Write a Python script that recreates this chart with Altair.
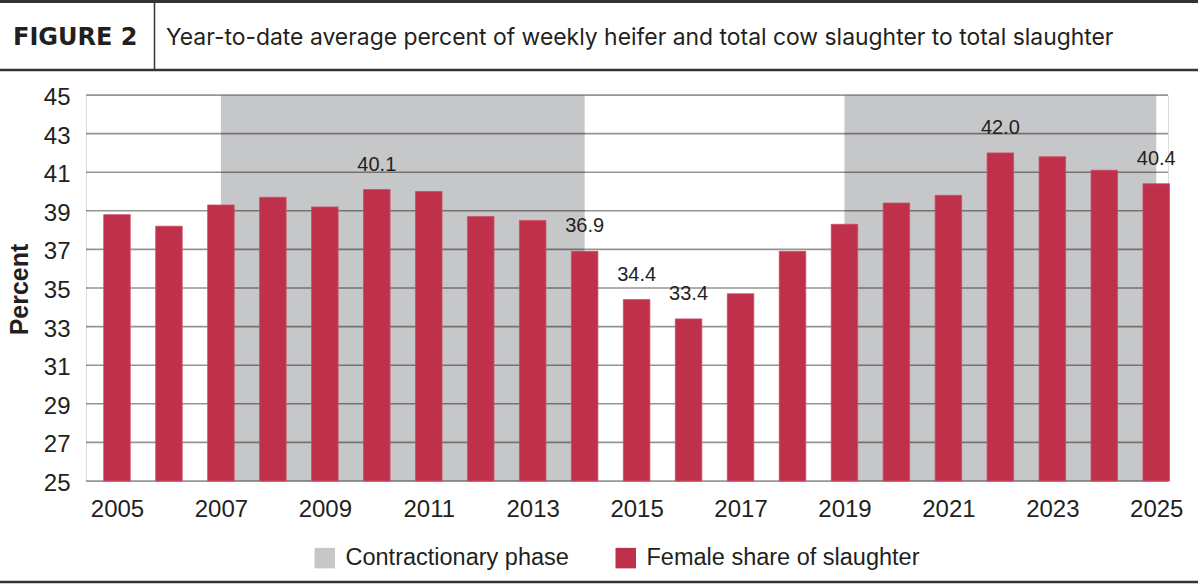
import altair as alt
import pandas as pd

# Year-to-date female share of total slaughter, percent
years = list(range(2005, 2026))
female_share = [38.8, 38.2, 39.3, 39.7, 39.2, 40.1, 40.0, 38.7, 38.5, 36.9,
                34.4, 33.4, 34.7, 36.9, 38.3, 39.4, 39.8, 42.0, 41.8, 41.1, 40.4]
labeled_years = [2010, 2014, 2015, 2016, 2022, 2025]

# Contractionary phases of the cattle cycle
phase_start = [2007, 2019]
phase_end = [2014, 2025]

y_ticks = list(range(25, 46, 2))
x_ticks = list(range(2005, 2026, 2))

series_names = ["Contractionary phase", "Female share of slaughter"]
series_colors = ["#c6c7c9", "#bf304a"]

title_text = "Year-to-date average percent of weekly heifer and total cow slaughter to total slaughter"
figure_tag = "FIGURE 2"

W, H = 1082, 386
PAD_L, PAD_T = 86, 95
INK = "#231f20"
SANS = "Liberation Sans, Arial, sans-serif"

bars_df = pd.DataFrame({"year": years, "share": female_share,
                        "series": series_names[1]})
phase_df = pd.DataFrame({"start": phase_start, "end": phase_end,
                         "series": series_names[0]})
grid_df = pd.DataFrame({"tick": y_ticks})

x_scale = alt.Scale(domain=[2004.5, 2025.13], nice=False, zero=False)
y_scale = alt.Scale(domain=[25, 45], nice=False, zero=False)
color_scale = alt.Scale(domain=series_names, range=series_colors)

legend = alt.Legend(
    title=None, orient="none", legendX=227, legendY=451, direction="horizontal",
    symbolType="square", symbolSize=420, symbolStrokeWidth=0, symbolOpacity=1,
    labelFont=SANS, labelFontSize=23.5, labelColor=INK, labelOffset=9,
    labelLimit=500, columnPadding=45, padding=0,
)

x_axis = alt.Axis(
    values=x_ticks, format="d", grid=False, ticks=False, tickSize=0,
    domain=False, labelFont=SANS, labelFontSize=24, labelColor=INK,
    labelBaseline="alphabetic", labelPadding=35, labelFlush=False,
    labelOverlap=False, title=None)

y_axis = alt.Axis(
    values=y_ticks, grid=False, ticks=False, tickSize=0, domain=False,
    labelFont=SANS, labelFontSize=24, labelColor=INK, labelOverlap=False,
    labelBaseline="alphabetic", labelOffset=9.5, labelPadding=16,
    title="Percent", titleFont=SANS, titleFontSize=25, titleFontWeight="bold",
    titleColor=INK, titleAngle=270, titleX=-67, titleY=194,
    titleAlign="center", titleBaseline="middle")

shade = alt.Chart(phase_df).mark_rect().encode(
    x=alt.X("start:Q", scale=x_scale, axis=x_axis),
    x2="end:Q",
    y=alt.value(0),
    y2=alt.value(H),
    color=alt.Color("series:N", scale=color_scale, legend=legend),
)

grid = alt.Chart(grid_df).mark_rule(color="#000000", opacity=0.42, strokeWidth=1.6).encode(
    y=alt.Y("tick:Q", scale=y_scale, axis=y_axis),
    x=alt.value(0),
    x2=alt.value(W),
)

bars = alt.Chart(bars_df).mark_bar(size=26.5, stroke="#cf4a62", strokeWidth=0.8).encode(
    x=alt.X("year:Q", scale=x_scale, axis=x_axis),
    y=alt.Y("share:Q", scale=y_scale, axis=y_axis, stack=None),
    y2=alt.value(H),
    color=alt.Color("series:N", scale=color_scale, legend=legend),
)

value_labels = alt.Chart(bars_df).transform_filter(
    alt.FieldOneOfPredicate(field="year", oneOf=labeled_years)
).mark_text(font=SANS, fontSize=20, color=INK,
            baseline="alphabetic", dy=-19).encode(
    x=alt.X("year:Q", scale=x_scale, axis=x_axis),
    y=alt.Y("share:Q", scale=y_scale, axis=y_axis),
    text=alt.Text("share:Q", format=".1f"),
)

# Header band: rules above and below, a divider, tag and title
rule_df = pd.DataFrame({"k": [0]})
top_rule = alt.Chart(rule_df).mark_rule(color="#333333", strokeWidth=3).encode(
    x=alt.value(-PAD_L), x2=alt.value(1198 - PAD_L), y=alt.value(1.5 - PAD_T))
head_rule = alt.Chart(rule_df).mark_rule(color="#333333", strokeWidth=2.5).encode(
    x=alt.value(-PAD_L), x2=alt.value(1198 - PAD_L), y=alt.value(70 - PAD_T))
divider = alt.Chart(rule_df).mark_rule(color="#333333", strokeWidth=1.5).encode(
    x=alt.value(154.5 - PAD_L), y=alt.value(3 - PAD_T), y2=alt.value(69 - PAD_T))
bottom_rule = alt.Chart(rule_df).mark_rule(color="#333333", strokeWidth=2.5).encode(
    x=alt.value(-PAD_L), x2=alt.value(1198 - PAD_L), y=alt.value(582 - PAD_T))

tag = alt.Chart(pd.DataFrame({"t": [figure_tag]})).mark_text(
    font="DejaVu Sans", fontWeight="bold", fontSize=24, color=INK,
    align="left", baseline="alphabetic").encode(
    x=alt.value(13 - PAD_L), y=alt.value(45 - PAD_T), text="t:N")
title = alt.Chart(pd.DataFrame({"t": [title_text]})).mark_text(
    font="Inter", fontSize=22.9, color=INK, align="left", baseline="alphabetic").encode(
    x=alt.value(166 - PAD_L), y=alt.value(44.5 - PAD_T), text="t:N")

chart = alt.layer(
    shade, grid, bars, value_labels,
    top_rule, head_rule, divider, bottom_rule, tag, title,
).properties(
    width=W, height=H,
    autosize=alt.AutoSizeParams(type="none"),
    padding={"left": PAD_L, "top": PAD_T, "right": 1200 - PAD_L - W,
             "bottom": 584 - PAD_T - H},
).configure_view(stroke=None).configure_axis(labelOverlap=False).configure(
    background="white")

chart.save("out.html", embed_options={"renderer": "svg", "actions": False})
